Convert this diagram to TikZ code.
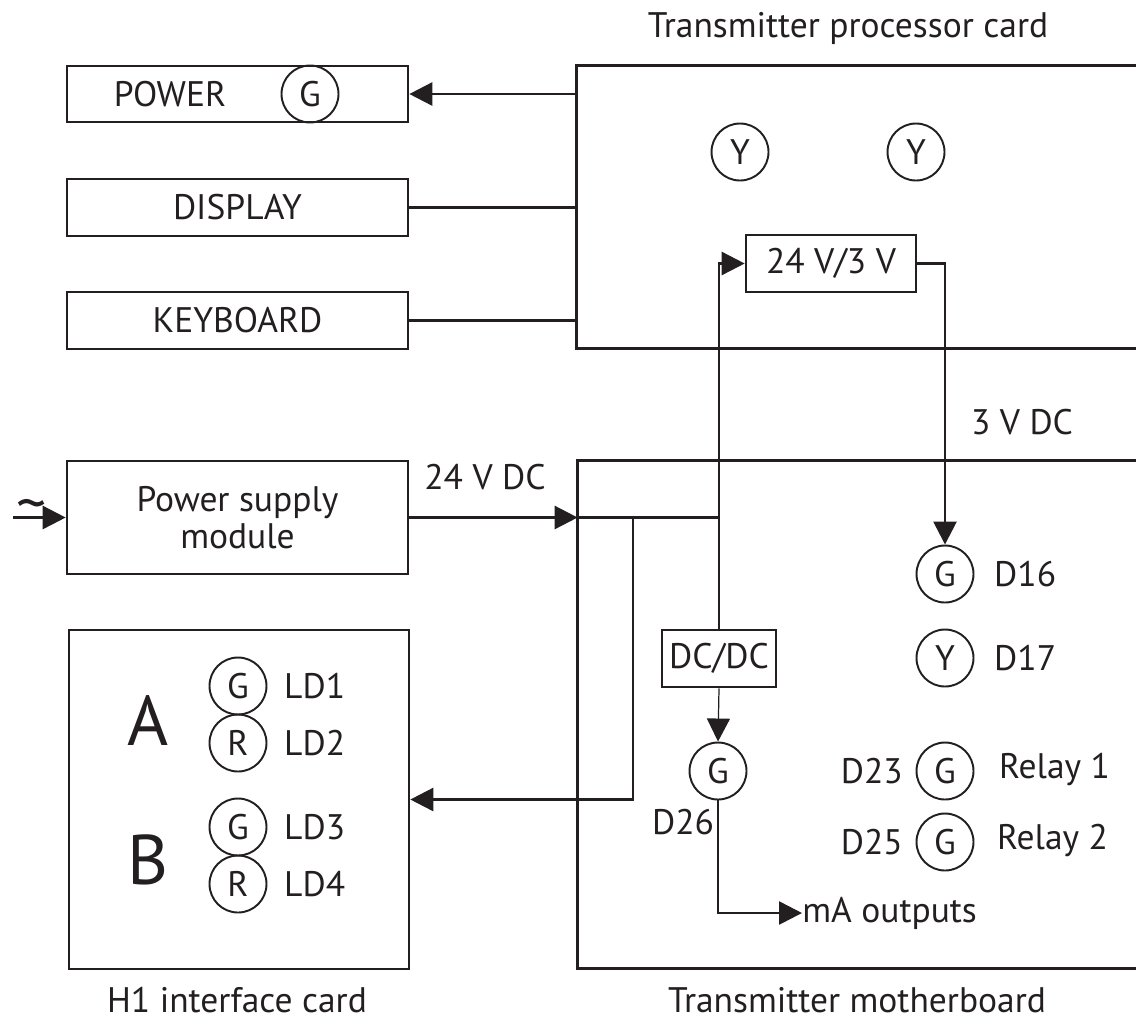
\documentclass[tikz,border=0pt]{standalone}
\usepackage{fontspec}
\setmainfont{PT Sans}
\usepackage{tikz}
\usetikzlibrary{arrows.meta,positioning,calc}
\definecolor{ink}{HTML}{231F20}

\begin{document}
\begin{tikzpicture}[x=0.2mm,y=-0.2mm,
    every node/.style={text=ink,font=\fontsize{20.2}{21}\selectfont},
    box/.style={draw=ink,line width=1.5pt,inner sep=0.5mm},
    led/.style={draw=ink,circle,line width=1.1pt,minimum size=11.4mm,inner sep=0pt},
    wire/.style={draw=ink,line width=1.5pt},
    arr/.style={wire,-{Triangle[length=4.6mm,width=4.6mm]}},
    thinarr/.style={draw=ink,line width=0.7pt,-{Triangle[length=4.6mm,width=4.6mm]}}]
  \useasboundingbox (0,0) rectangle (1136,1027);

  % left column
  \node[box,minimum width=68.2mm,minimum height=11.2mm] (power) at (237.5,94) {};
  \node at (170,94) {POWER};
  \node[led] (pwrled) at (310,94) {G};
  \node[box,minimum width=68.2mm,minimum height=11.4mm] (display) at (237.5,207.5) {DISPLAY};
  \node[box,minimum width=68.2mm,minimum height=11.4mm] (keyboard) at (237.5,320.5) {KEYBOARD};
  \node[box,minimum width=68.2mm,minimum height=22.6mm,align=center] (psm) at (237.5,517.5) {Power supply\\module};
  \node[box,minimum width=68mm,minimum height=67.8mm] (h1) at (239,799.5) {};

  % processor card and motherboard, open to the right
  \node[minimum width=111.8mm,minimum height=56.4mm] (proc) at (856.5,207) {};
  \draw[wire] (proc.north east) -| (proc.south west) -- (proc.south east);
  \node[minimum width=111.6mm,minimum height=101.4mm] (mb) at (857,714.5) {};
  \draw[wire] (mb.north east) -| (mb.south west) -- (mb.south east);
  \node[box,minimum width=34mm,minimum height=11.4mm] (conv) at (831,263.5) {24 V/3 V};
  \node[box,minimum width=22.8mm,minimum height=11.4mm] (dcdc) at (719,658.5) {DC/DC};

  % LEDs
  \node[led] (py1) at (740,152) {Y};
  \node[led] (py2) at (916,152) {Y};
  \node[led] (d16) at (945,574) {G};
  \node[anchor=west] at (988,574) {D16};
  \node[led] (d17) at (945,658) {Y};
  \node[anchor=west] at (988,658) {D17};
  \node[led] (d23) at (945,771) {G};
  \node[anchor=east] at (909,771) {D23};
  \node[anchor=west] at (993,769) {Relay 1};
  \node[led] (d25) at (945,842) {G};
  \node[anchor=east] at (909,842) {D25};
  \node[anchor=west] at (991,840) {Relay 2};
  \node[led] (d26) at (718,771) {G};
  \node at (683,822) {D26};
  \node[anchor=west,inner sep=0pt] (mA) at (802,913) {mA outputs};

  \node[font=\fontsize{40}{40}\selectfont] at (148,720) {A};
  \node[font=\fontsize{40}{40}\selectfont] at (148,860) {B};
  \foreach \y/\c/\n in {686/G/1,743/R/2,827/G/3,884/R/4}
    {\node[led] (ld\n) at (238,\y) {\c}; \node[anchor=west] at (278,\y) {LD\n};}

  % connectors
  \draw[arr] (power.east -| proc.west) -- (power.east);
  \draw[wire] (display.east) -- (display.east -| proc.west);
  \draw[wire] (keyboard.east) -- (keyboard.east -| proc.west);
  \coordinate (acin) at (13,517.5);
  \draw[arr] (acin) -- (psm.west);
  \node[font=\fontsize{34}{34}\selectfont] at (32,512) {\textasciitilde};
  \draw[arr] (psm.east) -- (psm.east -| mb.west);
  \coordinate (split) at (dcdc.north |- psm.east);
  \coordinate (tap) at (633,517.5);
  \draw[wire] (psm.east -| mb.west) -- (split);
  \draw[arr] (dcdc.north) |- (conv.west);
  \draw[arr] (tap) |- (h1.east);
  \draw[arr] (conv.east) -| (d16.north);
  \draw[thinarr] (dcdc.south) -- (d26.north);
  \draw[arr] (d26.south) |- (mA.west);

  % labels
  \node at (485,477) {24 V DC};
  \node at (1022,422) {3 V DC};
  \node at (848,28) {Transmitter processor card};
  \node at (237,1000) {H1 interface card};
  \node at (857,1000) {Transmitter motherboard};
\end{tikzpicture}
\end{document}
